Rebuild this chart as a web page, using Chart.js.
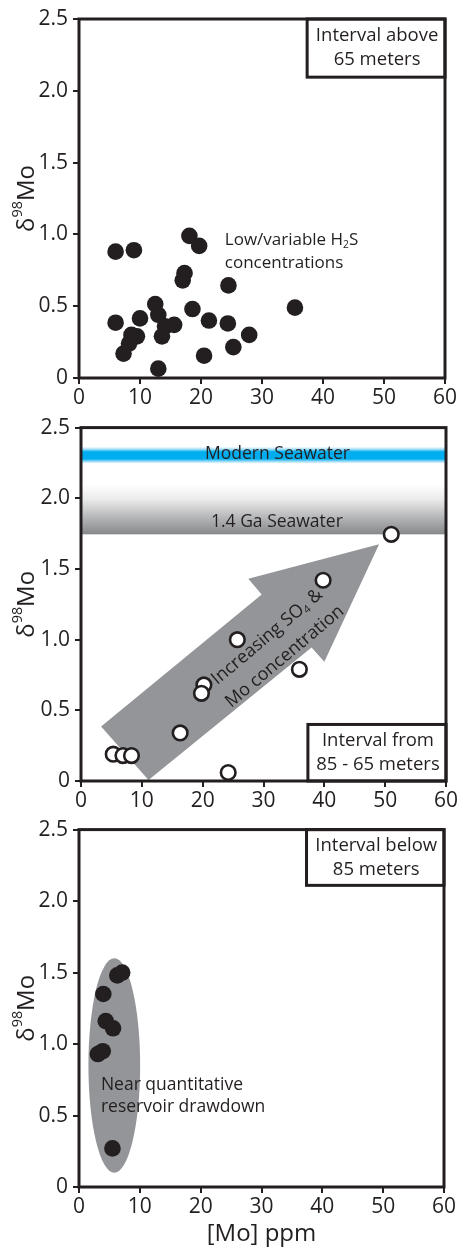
<!DOCTYPE html>
<html>
<head>
<meta charset="utf-8">
<script src="https://cdn.jsdelivr.net/npm/chart.js@4.4.1/dist/chart.umd.min.js"></script>
<style>
    body { margin: 0; background: #fff; }
    canvas { position: absolute; left: 0; }
</style>
</head>
<body>
<canvas id="above" width="461" height="410" style="top:0"></canvas>
<canvas id="middle" width="461" height="402" style="top:410px"></canvas>
<canvas id="below" width="461" height="440" style="top:812px"></canvas>
<script>
const xTicks = [0, 10, 20, 30, 40, 50, 60];
const yTicks = [0, 0.5, 1.0, 1.5, 2.0, 2.5];

// interval above 65 m
const aboveMo = [6.0, 9.0, 18.1, 19.7, 17.3, 17.0, 24.5, 6.0, 10.0, 12.5, 13.0, 14.1, 15.6, 13.6, 9.5, 8.6, 8.2, 7.3, 18.6, 21.3, 24.4, 20.5, 25.3, 27.9, 35.4, 13.0];
const aboveDelta = [0.88, 0.89, 0.99, 0.92, 0.73, 0.68, 0.645, 0.385, 0.415, 0.515, 0.44, 0.36, 0.37, 0.29, 0.29, 0.30, 0.24, 0.17, 0.48, 0.40, 0.38, 0.155, 0.215, 0.30, 0.49, 0.065];

// interval from 85 - 65 m
const middleMo = [51.0, 39.8, 25.7, 20.2, 19.8, 35.9, 16.3, 24.2, 5.3, 6.9, 8.3];
const middleDelta = [1.745, 1.42, 1.0, 0.68, 0.62, 0.79, 0.34, 0.06, 0.19, 0.18, 0.18];

// interval below 85 m
const belowMo = [3.1, 3.9, 4.0, 4.4, 5.6, 6.3, 7.1, 5.5];
const belowDelta = [0.93, 0.95, 1.35, 1.16, 1.11, 1.48, 1.50, 0.27];

// seawater reference bands (delta98Mo range)
const modernSeawater = [2.245, 2.365];
const ancientSeawater = [1.745, 2.1];

// trend arrow outline (Mo ppm, delta98Mo)
const arrowMo = [3.3, 29.7, 27.5, 49.0, 40.0, 37.9, 11.1];
const arrowDelta = [0.385, 1.32, 1.43, 1.675, 0.844, 0.945, 0.007];

// drawdown ellipse: centre Mo, centre delta, half width, half height
const drawdownEllipse = [5.8, 0.85, 4.25, 0.75];

const ink = '#231f20';
const family = "'Open Sans', sans-serif";
const fontOf = (size) => `${size}px ${family}`;

// draw text made of pieces, some raised or lowered
const richText = (ctx, parts, x, y, size, align) => {
    const small = size * 0.6;
    let total = 0;
    parts.forEach(p => {
        ctx.font = fontOf(p[1] ? small : size);
        total += ctx.measureText(p[0]).width;
    });
    let cx = align === 'center' ? x - total / 2 : x;
    ctx.textAlign = 'left';
    ctx.textBaseline = 'middle';
    parts.forEach(p => {
        ctx.font = fontOf(p[1] ? small : size);
        const dy = p[1] === 1 ? -size * 0.36 : p[1] === -1 ? size * 0.28 : 0;
        ctx.fillText(p[0], cx, y + dy);
        cx += ctx.measureText(p[0]).width;
    });
};

const decor = {
    id: 'decor',
    beforeDatasetsDraw(chart, args, opts) {
        const { ctx, chartArea: a, scales: { x, y } } = chart;
        ctx.save();
        ctx.beginPath();
        ctx.rect(a.left, a.top, a.right - a.left, a.bottom - a.top);
        ctx.clip();

        (opts.bands || []).forEach(b => {
            const top = y.getPixelForValue(b.range[1]);
            const bottom = y.getPixelForValue(b.range[0]);
            const g = ctx.createLinearGradient(0, top, 0, bottom);
            b.stops.forEach(s => g.addColorStop(s[0], s[1]));
            ctx.fillStyle = g;
            ctx.fillRect(a.left, top, a.right - a.left, bottom - top);
            ctx.fillStyle = ink;
            richText(ctx, [[b.label, 0]], x.getPixelForValue(b.labelAt[0]), y.getPixelForValue(b.labelAt[1]), 17.5, 'center');
        });

        if (opts.arrow) {
            ctx.beginPath();
            arrowMo.forEach((m, i) => {
                const px = x.getPixelForValue(m);
                const py = y.getPixelForValue(arrowDelta[i]);
                if (i === 0) ctx.moveTo(px, py); else ctx.lineTo(px, py);
            });
            ctx.closePath();
            ctx.fillStyle = '#939598';
            ctx.fill();
        }

        if (opts.ellipse) {
            const [cm, cd, hw, hh] = drawdownEllipse;
            const px = x.getPixelForValue(cm);
            const py = y.getPixelForValue(cd);
            ctx.beginPath();
            ctx.ellipse(px, py, x.getPixelForValue(cm + hw) - px, py - y.getPixelForValue(cd + hh), 0, 0, Math.PI * 2);
            ctx.fillStyle = '#939598';
            ctx.fill();
        }

        ctx.fillStyle = ink;
        (opts.notes || []).forEach(n => {
            const px = x.getPixelForValue(n.at[0]);
            const py = y.getPixelForValue(n.at[1]);
            ctx.save();
            ctx.translate(px, py);
            ctx.rotate((n.angle || 0) * Math.PI / 180);
            n.lines.forEach((line, i) => {
                richText(ctx, line, 0, i * n.gap, n.size, n.align || 'left');
            });
            ctx.restore();
        });
        ctx.restore();
    },
    afterDatasetsDraw(chart, args, opts) {
        const { ctx, chartArea: a, scales: { x, y } } = chart;
        ctx.save();
        ctx.lineWidth = 3;
        ctx.strokeStyle = ink;

        if (opts.box) {
            const b = opts.box;
            const l = x.getPixelForValue(b.from[0]);
            const t = y.getPixelForValue(b.from[1]);
            const r = x.getPixelForValue(b.to[0]);
            const btm = y.getPixelForValue(b.to[1]);
            ctx.fillStyle = '#fff';
            ctx.fillRect(l, t, r - l, btm - t);
            ctx.strokeRect(l, t, r - l, btm - t);
            ctx.fillStyle = ink;
            const cx = (l + r) / 2 + 1;
            const cy = (t + btm) / 2;
            b.lines.forEach((line, i) => {
                richText(ctx, [[line, 0]], cx, cy + (i - 0.5) * 24, 18.5, 'center');
            });
        }

        ctx.strokeRect(a.left, a.top, a.right - a.left, a.bottom - a.top);

        // y axis title with superscript
        ctx.translate(27, (a.top + a.bottom) / 2);
        ctx.rotate(-Math.PI / 2);
        ctx.fillStyle = ink;
        richText(ctx, [['δ', 0], ['98', 1], ['Mo', 0]], 0, 0, 24, 'center');
        ctx.restore();
    }
};

const makePanel = (id, mo, delta, filled, frame, decorOpts, xTitle) => {
    const points = mo.map((m, i) => ({ x: m, y: delta[i] }));
    return new Chart(document.getElementById(id), {
        type: 'scatter',
        data: {
            datasets: [{
                data: points,
                pointRadius: filled ? 8.3 : 7.3,
                pointBorderWidth: filled ? 0 : 2.6,
                pointBackgroundColor: filled ? ink : '#fff',
                pointBorderColor: ink
            }]
        },
        options: {
            responsive: false,
            animation: false,
            layout: { padding: { top: frame.top, right: frame.right, left: 0, bottom: 0 } },
            plugins: {
                legend: { display: false },
                tooltip: { enabled: false },
                decor: decorOpts
            },
            scales: {
                x: {
                    type: 'linear',
                    min: xTicks[0],
                    max: xTicks[xTicks.length - 1],
                    afterBuildTicks: (s) => { s.ticks = xTicks.map(v => ({ value: v })); },
                    afterFit: (s) => { s.height = frame.xHeight; },
                    border: { display: false },
                    grid: { drawOnChartArea: false, drawTicks: true, tickLength: 6, color: ink, lineWidth: 2 },
                    ticks: { color: ink, padding: 1, font: { family, size: 21 }, maxRotation: 0 },
                    title: {
                        display: !!xTitle,
                        text: xTitle || '',
                        color: ink,
                        font: { family, size: 24 },
                        padding: { top: 0, bottom: 3 }
                    }
                },
                y: {
                    type: 'linear',
                    min: yTicks[0],
                    max: yTicks[yTicks.length - 1],
                    afterBuildTicks: (s) => { s.ticks = yTicks.map(v => ({ value: v })); },
                    afterFit: (s) => { s.width = frame.yWidth; },
                    border: { display: false },
                    grid: { drawOnChartArea: false, drawTicks: true, tickLength: 6, color: ink, lineWidth: 2 },
                    ticks: {
                        color: ink,
                        padding: 5,
                        font: { family, size: 21 },
                        callback: (v) => v === 0 ? '0' : v.toFixed(1)
                    }
                }
            }
        },
        plugins: [decor]
    });
};

makePanel('above', aboveMo, aboveDelta, true,
    { top: 19, right: 16, yWidth: 79, xHeight: 32 },
    {
        box: { from: [37.4, 2.5], to: [60, 2.095], lines: ['Interval above', '65 meters'] },
        notes: [{
            at: [23.9, 0.96], size: 17, gap: 23,
            lines: [[['Low/variable H', 0], ['2', -1], ['S', 0]], [['concentrations', 0]]]
        }]
    });

makePanel('middle', middleMo, middleDelta, false,
    { top: 13, right: 15, yWidth: 81, xHeight: 31 },
    {
        bands: [
            {
                range: modernSeawater, label: 'Modern Seawater', labelAt: [32.3, 2.31],
                stops: [[0, '#ffffff'], [0.15, '#a6def7'], [0.3, '#00aeef'], [0.72, '#00aeef'], [0.88, '#a6def7'], [1, '#ffffff']]
            },
            {
                range: ancientSeawater, label: '1.4 Ga Seawater', labelAt: [32.2, 1.83],
                stops: [[0, '#ffffff'], [0.3, '#ebebeb'], [0.7, '#b0b1b3'], [1, '#87888a']]
            }
        ],
        arrow: true,
        box: { from: [37.3, 0.4], to: [60, 0], lines: ['Interval from', '85 - 65 meters'] },
        notes: [
            { at: [30.6, 1.02], size: 18, gap: 0, angle: -40, align: 'center', lines: [[['Increasing SO', 0], ['4', -1], [' &', 0]]] },
            { at: [33.5, 0.88], size: 18, gap: 0, angle: -40, align: 'center', lines: [[['Mo concentration', 0]]] }
        ]
    });

makePanel('below', belowMo, belowDelta, true,
    { top: 15, right: 17, yWidth: 79, xHeight: 65 },
    {
        ellipse: true,
        box: { from: [37.4, 2.5], to: [60, 2.11], lines: ['Interval below', '85 meters'] },
        notes: [{
            at: [3.6, 0.71], size: 17.5, gap: 22,
            lines: [[['Near quantitative', 0]], [['reservoir drawdown', 0]]]
        }]
    },
    '[Mo] ppm');
</script>
</body>
</html>
